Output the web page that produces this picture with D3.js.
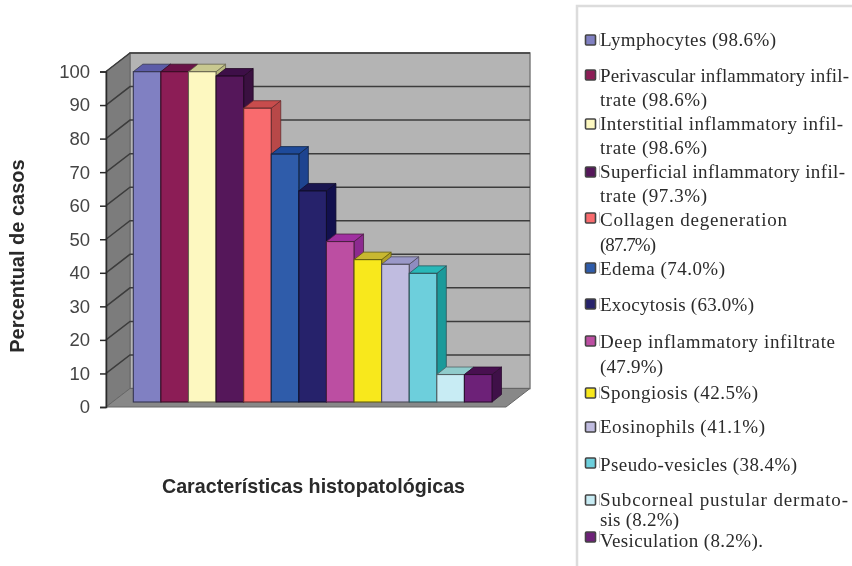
<!DOCTYPE html>
<html>
<head>
<meta charset="utf-8">
<script src="https://cdn.jsdelivr.net/npm/d3@7"></script>
<style>
	html, body { margin: 0; padding: 0; background: #fff; }
	svg { display: block; }
	.soft { filter: blur(0.5px); }
</style>
</head>
<body>
<svg id="chart" width="852" height="566"></svg>
<script>
// DATA
const categories = [
	"Lymphocytes", "Perivascular inflammatory infiltrate", "Interstitial inflammatory infiltrate",
	"Superficial inflammatory infiltrate", "Collagen degeneration", "Edema", "Exocytosis",
	"Deep inflammatory infiltrate", "Spongiosis", "Eosinophils", "Pseudo-vesicles",
	"Subcorneal pustular dermatosis", "Vesiculation"
];
const values = [98.6, 98.6, 98.6, 97.3, 87.7, 74.0, 63.0, 47.9, 42.5, 41.1, 38.4, 8.2, 8.2];
const colors = [
	"#8080c2", "#8c1d56", "#fdf8c0", "#55175a", "#f96b6e", "#2f5caa", "#26226b",
	"#bc4ea2", "#f8e81c", "#c0bce0", "#6dcfdc", "#c8ecf4", "#6d2178"
];
const topColors = [
	"#5c5ca8", "#6a1248", "#c8c890", "#3e0f48", "#c84c4c", "#1e4a9a", "#1a1650",
	"#a030a0", "#c8b830", "#9a98c8", "#28b8b8", "#90cccc", "#481050"
];
const sideColors = [
	"#4c4c90", "#5a103e", "#b8b880", "#3a1040", "#b84848", "#1e4490", "#12104e",
	"#8c2a90", "#b0a028", "#8f8cc0", "#1a9a9a", "#80b8b8", "#3f1048"
];
const yTicks = d3.range(0, 101, 10);
const yTitle = "Percentual de casos";
const xTitle = "Características histopatológicas";

// legend text, one entry per printed line
const legendLines = [
	"Lymphocytes (98.6%)",
	"Perivascular inflammatory infil-", "trate (98.6%)",
	"Interstitial inflammatory infil-", "trate (98.6%)",
	"Superficial inflammatory infil-", "trate (97.3%)",
	"Collagen degeneration", "(87.7%)",
	"Edema (74.0%)",
	"Exocytosis (63.0%)",
	"Deep inflammatory infiltrate", "(47.9%)",
	"Spongiosis (42.5%)",
	"Eosinophils (41.1%)",
	"Pseudo-vesicles (38.4%)",
	"Subcorneal pustular dermato-", "sis (8.2%)",
	"Vesiculation (8.2%)."
];
const legendWidths = [176, 249, 107, 243, 107, 245, 107, 187, 56, 125, 154, 235, 63, 158, 165, 197, 248, 79, 163];
const legendBaselines = [46, 82, 106, 130, 154, 178, 202, 226, 251, 275, 311, 348, 373, 399, 433, 471, 506, 526, 547];
const swatchCentres = [40, 75, 124, 172, 218, 268, 304, 341, 393, 427, 463, 500, 537];

// SETUP
const svg = d3.select("#chart");
const chart = svg.append("g").attr("class", "soft");

const depth = { x: 24, y: -18.5 };   // floor front edge to back wall
const barDepth = { x: 9.5, y: -7.5 };
const plot = { left: 106, right: 506, bottom: 407, top: 71.5 };

const y = d3.scaleLinear().domain([0, 100]).range([plot.bottom, plot.top]);
const yBar = d3.scaleLinear().domain([0, 100]).range([402, 67]);
const x = d3.scaleBand().domain(categories).range([133.3, 492]).padding(0);

const poly = pts => pts.map(p => p.join(",")).join(" ");

// WALLS
chart.append("polygon")
	.attr("points", poly([
		[plot.left + depth.x, y(100) + depth.y], [plot.right + depth.x, y(100) + depth.y],
		[plot.right + depth.x, y(0) + depth.y], [plot.left + depth.x, y(0) + depth.y]
	]))
	.attr("fill", "#b4b4b4").attr("stroke", "#777").attr("stroke-width", 1.4);

chart.append("polygon")
	.attr("points", poly([
		[plot.left, y(100)], [plot.left + depth.x, y(100) + depth.y],
		[plot.left + depth.x, y(0) + depth.y], [plot.left, y(0)]
	]))
	.attr("fill", "#7c7c7c").attr("stroke", "#666").attr("stroke-width", 1);

chart.append("polygon")
	.attr("points", poly([
		[plot.left, y(0)], [plot.left + depth.x, y(0) + depth.y],
		[plot.right + depth.x, y(0) + depth.y], [plot.right, y(0)]
	]))
	.attr("fill", "#888").attr("stroke", "#666").attr("stroke-width", 1);

// GRID
chart.append("g").selectAll("polyline").data(yTicks.filter(d => d > 0)).join("polyline")
	.attr("points", d => poly([
		[plot.left, y(d)], [plot.left + depth.x, y(d) + depth.y], [plot.right + depth.x, y(d) + depth.y]
	]))
	.attr("fill", "none")
	.attr("stroke", "#3c3c3c")
	.attr("stroke-width", 1.5);

// AXIS
const axis = chart.append("g")
	.attr("transform", `translate(${plot.left},0)`)
	.call(d3.axisLeft(y).tickValues(yTicks).tickSize(6).tickPadding(10));
axis.selectAll("path, line").attr("stroke", "#2a2a2a").attr("stroke-width", 1.5);
axis.selectAll("text")
	.attr("fill", "#444")
	.style("font-family", "'Liberation Sans', Arial, sans-serif")
	.style("font-size", "18.5px");

// BARS, left to right so each bar covers the side of the one before
const bars = chart.append("g").selectAll("g")
	.data(categories.map((name, i) => ({
		name, value: values[i], color: colors[i], top: topColors[i], side: sideColors[i]
	})))
	.join("g");

bars.append("polygon")  // side
	.attr("points", d => {
		const r = x(d.name) + x.bandwidth();
		return poly([
			[r, yBar(d.value)], [r + barDepth.x, yBar(d.value) + barDepth.y],
			[r + barDepth.x, yBar(0) + barDepth.y], [r, yBar(0)]
		]);
	})
	.attr("fill", d => d.side)
	.attr("stroke", d => d3.color(d.color).darker(2.5))
	.attr("stroke-width", 0.8);

bars.append("polygon")  // top
	.attr("points", d => {
		const l = x(d.name), r = l + x.bandwidth();
		return poly([
			[l, yBar(d.value)], [l + barDepth.x, yBar(d.value) + barDepth.y],
			[r + barDepth.x, yBar(d.value) + barDepth.y], [r, yBar(d.value)]
		]);
	})
	.attr("fill", d => d.top)
	.attr("stroke", d => d3.color(d.color).darker(2.5))
	.attr("stroke-width", 0.8);

bars.append("rect")  // front
	.attr("x", d => x(d.name))
	.attr("y", d => yBar(d.value))
	.attr("width", x.bandwidth())
	.attr("height", d => yBar(0) - yBar(d.value))
	.attr("fill", d => d.color)
	.attr("stroke", d => d3.color(d.color).darker(2.5))
	.attr("stroke-width", 1.1);

// TITLES
chart.append("text")
	.attr("transform", "translate(24,256) rotate(-90)")
	.attr("text-anchor", "middle")
	.attr("fill", "#2a2a2a")
	.style("font", "bold 20px 'Liberation Sans', Arial, sans-serif")
	.text(yTitle);

chart.append("text")
	.attr("x", 313.5)
	.attr("y", 493)
	.attr("text-anchor", "middle")
	.attr("fill", "#2a2a2a")
	.style("font", "bold 19.7px 'Liberation Sans', Arial, sans-serif")
	.text(xTitle);

// LEGEND
const legend = svg.append("g").attr("class", "soft");

legend.append("path")
	.attr("d", "M852,6H577V566")
	.attr("fill", "none")
	.attr("stroke", "#dcdcdc")
	.attr("stroke-width", 2.5);

legend.selectAll("rect").data(colors).join("rect")
	.attr("x", 585.5)
	.attr("y", (d, i) => swatchCentres[i] - 5)
	.attr("width", 10)
	.attr("height", 10)
	.attr("rx", 1)
	.attr("fill", d => d)
	.attr("stroke", "#444")
	.attr("stroke-width", 1.6);

// thin rule that the scan leaves beside each swatch
legend.selectAll("line").data(swatchCentres).join("line")
	.attr("x1", 599.5)
	.attr("x2", 599.5)
	.attr("y1", d => d - 6)
	.attr("y2", d => d + 5)
	.attr("stroke", "#aaa")
	.attr("stroke-width", 0.7);

legend.selectAll("text").data(legendLines).join("text")
	.attr("x", 600)
	.attr("y", (d, i) => legendBaselines[i])
	.attr("textLength", (d, i) => legendWidths[i])
	.attr("lengthAdjust", "spacing")
	.attr("fill", "#2b2b2b")
	.style("font-family", "'Liberation Serif', serif")
	.style("font-size", "19px")
	.text(d => d);
</script>
</body>
</html>
